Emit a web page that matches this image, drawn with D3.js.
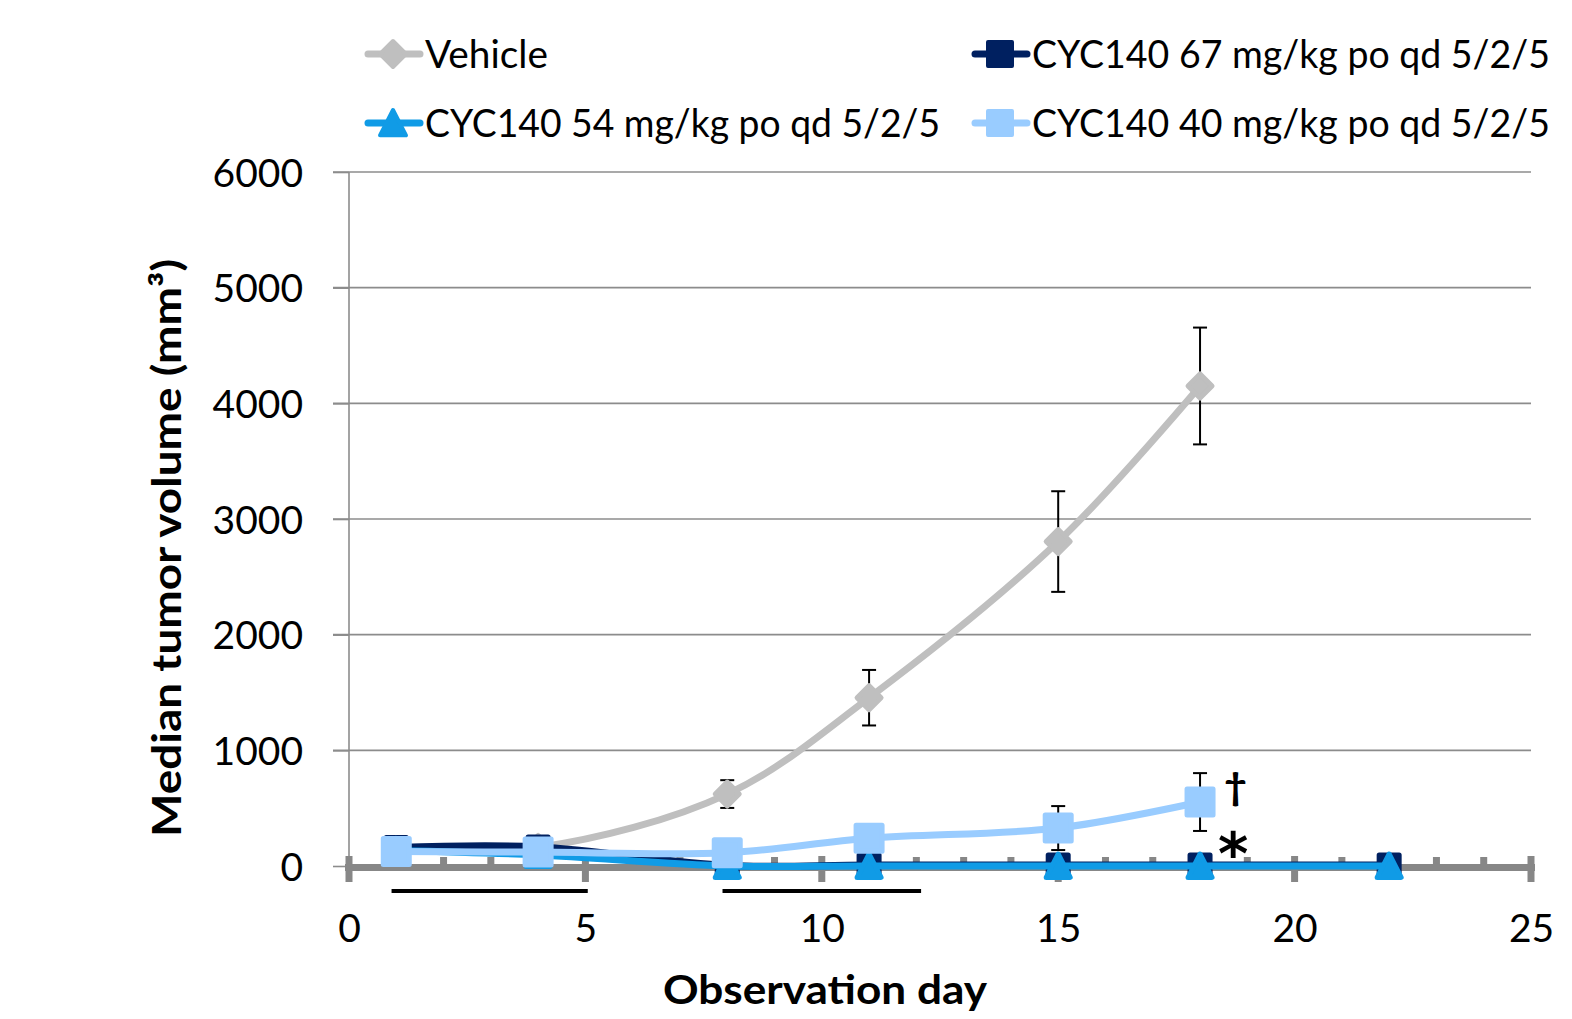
<!DOCTYPE html>
<html><head><meta charset="utf-8">
<script src="https://cdn.jsdelivr.net/npm/d3@7"></script>
<style>html,body{margin:0;padding:0;background:#fff;}svg{display:block;}</style>
</head><body>
<svg id="c" width="1572" height="1019"></svg>
<script>
// ---- data ----
const vehicleDays = [1, 4, 8, 11, 15, 18];
const vehicleVals = [140, 160, 622, 1455, 2805, 4150];
const vehicleErr  = [20, 20, 120, 240, 435, 505];

const dose67Days = [1, 4, 8, 11, 15, 18, 22];
const dose67Vals = [160, 165, 5, 8, 8, 8, 8];

const dose54Days = [1, 4, 8, 11, 15, 18, 22];
const dose54Vals = [135, 95, 0, 0, 0, 0, 0];

const dose40Days = [1, 4, 8, 11, 15, 18];
const dose40Vals = [125, 120, 115, 240, 328, 553];
const dose40Err  = [0, 0, 0, 0, 190, 250];

const seriesNames = ["Vehicle", "CYC140 67 mg/kg po qd 5/2/5", "CYC140 54 mg/kg po qd 5/2/5", "CYC140 40 mg/kg po qd 5/2/5"];
const xTicks = [0, 5, 10, 15, 20, 25];
const yTicks = [0, 1000, 2000, 3000, 4000, 5000, 6000];
const dosingPeriods = [[0.9, 5.05], [7.9, 12.1]];
const annotations = [{day: 18.75, text: "\u2020"}, {day: 18.7, text: "*"}];

// ---- setup ----
const svg = d3.select("#c");
const FONT = "Lato, 'Open Sans', sans-serif";
const x = d3.scaleLinear().domain([0, 25]).range([349, 1531]);
const y = d3.scaleLinear().domain([0, 6000]).range([866, 172]);

function fit(sel, w){ sel.attr("textLength", w).attr("lengthAdjust", "spacingAndGlyphs"); return sel; }

// gridlines
svg.append("g").selectAll("line").data(yTicks.filter(d => d > 0)).join("line")
  .attr("x1", 333).attr("x2", x(25)).attr("y1", d => y(d)).attr("y2", d => y(d))
  .attr("stroke", "#8c8c8c").attr("stroke-width", 1.6);

// y axis
const yAxis = svg.append("g").attr("transform", `translate(${x(0)},0)`)
  .call(d3.axisLeft(y).tickValues(yTicks).tickSize(16).tickPadding(30).tickFormat(d3.format("d")));
yAxis.select(".domain").remove();
yAxis.selectAll(".tick line").attr("stroke", "#8c8c8c").attr("stroke-width", 1.6);
yAxis.selectAll(".tick text").attr("font-family", FONT).attr("font-size", 39).attr("fill", "#000").attr("dy", "0.36em");
svg.append("line").attr("x1", x(0)).attr("x2", x(0)).attr("y1", y(6000)).attr("y2", y(0))
  .attr("stroke", "#8c8c8c").attr("stroke-width", 1.6);

// x axis
const xAxis = svg.append("g").attr("transform", `translate(0,${y(0)})`)
  .call(d3.axisBottom(x).tickValues(xTicks).tickSize(0).tickPadding(48).tickFormat(d3.format("d")));
xAxis.select(".domain").remove();
xAxis.selectAll(".tick text").attr("font-family", FONT).attr("font-size", 39).attr("fill", "#000");

const axG = svg.append("g");
axG.append("line").attr("x1", x(0) - 4).attr("x2", x(25) + 4).attr("y1", y(0) + 1.5).attr("y2", y(0) + 1.5)
  .attr("stroke", "#878787").attr("stroke-width", 7);
const minor = d3.range(1, 25).filter(d => d % 5 !== 0);
axG.selectAll(".mn").data(minor).join("rect").attr("class", "mn")
  .attr("x", d => x(d) - 3.5).attr("y", y(0) - 9).attr("width", 7).attr("height", 9).attr("fill", "#878787");
axG.selectAll(".mj").data(xTicks).join("rect").attr("class", "mj")
  .attr("x", d => x(d) - 3.5).attr("y", y(0) - 10).attr("width", 7).attr("height", 26).attr("fill", "#878787");

// dosing bars
svg.append("g").selectAll("line").data(dosingPeriods).join("line")
  .attr("x1", d => x(d[0])).attr("x2", d => x(d[1])).attr("y1", 891).attr("y2", 891)
  .attr("stroke", "#000").attr("stroke-width", 4);

// ---- series ----
const curve = d3.curveCatmullRom.alpha(0.5);
const line = d3.line().x(d => x(d[0])).y(d => y(d[1])).curve(curve);

function symbolPath(kind, s){
  if (kind === "diamond") return `M0,${-s}L${s},0L0,${s}L${-s},0Z`;
  if (kind === "square") return `M${-s},${-s}H${s}V${s}H${-s}Z`;
  if (kind === "triangle") return `M0,${-s}L${s},${s*0.95}H${-s}Z`;
}

const series = [
  {days: vehicleDays, vals: vehicleVals, err: vehicleErr, color: "#bfbfbf", sym: "diamond", size: 12},
  {days: dose67Days, vals: dose67Vals, err: null, color: "#002060", sym: "square", size: 10},
  {days: dose54Days, vals: dose54Vals, err: null, color: "#109be6", sym: "triangle", size: 12},
  {days: dose40Days, vals: dose40Vals, err: dose40Err, color: "#99ccff", sym: "square", size: 13}
];

series.forEach(s => {
  const pts = s.days.map((d, i) => [d, s.vals[i]]);
  const g = svg.append("g");
  if (s.err) {
    const eb = pts.map((p, i) => ({d: p[0], v: p[1], e: s.err[i]})).filter(o => o.e > 0);
    g.selectAll(".ev").data(eb).join("line").attr("class", "ev")
      .attr("x1", o => x(o.d)).attr("x2", o => x(o.d)).attr("y1", o => y(o.v - o.e)).attr("y2", o => y(o.v + o.e))
      .attr("stroke", "#000").attr("stroke-width", 2);
    g.selectAll(".ct").data(eb).join("line").attr("class", "ct")
      .attr("x1", o => x(o.d) - 7).attr("x2", o => x(o.d) + 7).attr("y1", o => y(o.v + o.e)).attr("y2", o => y(o.v + o.e))
      .attr("stroke", "#000").attr("stroke-width", 2);
    g.selectAll(".cb").data(eb).join("line").attr("class", "cb")
      .attr("x1", o => x(o.d) - 7).attr("x2", o => x(o.d) + 7).attr("y1", o => y(o.v - o.e)).attr("y2", o => y(o.v - o.e))
      .attr("stroke", "#000").attr("stroke-width", 2);
  }
  g.append("path").attr("d", line(pts)).attr("fill", "none").attr("stroke", s.color)
    .attr("stroke-width", 7).attr("stroke-linejoin", "round").attr("stroke-linecap", "round");
  g.selectAll(".m").data(pts).join("path").attr("class", "m")
    .attr("transform", p => `translate(${x(p[0])},${y(p[1])})`)
    .attr("d", symbolPath(s.sym, s.size)).attr("fill", s.color)
    .attr("stroke", s.color).attr("stroke-width", 5).attr("stroke-linejoin", "round");
});

// annotations
svg.append("text").attr("x", x(annotations[0].day)).attr("y", 800).attr("text-anchor", "middle")
  .attr("font-family", FONT).attr("font-weight", 900).attr("font-size", 38).text(annotations[0].text);
svg.append("text").attr("x", x(annotations[1].day)).attr("y", 874).attr("text-anchor", "middle")
  .attr("font-family", "'DejaVu Sans', sans-serif").attr("font-weight", 700).attr("font-size", 58).text(annotations[1].text);

// ---- legend ----
const legendPos = [
  {lx: 365, ty: 54, tx: 425, w: 123},
  {lx: 972, ty: 54, tx: 1032, w: 518},
  {lx: 365, ty: 123, tx: 425, w: 515},
  {lx: 972, ty: 123, tx: 1032, w: 518}
];
series.forEach((s, i) => {
  const p = legendPos[i];
  const g = svg.append("g");
  g.append("line").attr("x1", p.lx + 3).attr("x2", p.lx + 55).attr("y1", p.ty).attr("y2", p.ty)
    .attr("stroke", s.color).attr("stroke-width", 7).attr("stroke-linecap", "round");
  g.append("path").attr("transform", `translate(${p.lx + 28},${p.ty})`).attr("d", symbolPath(s.sym, s.sym === "square" ? 12 : 13))
    .attr("fill", s.color).attr("stroke", s.color).attr("stroke-width", 4).attr("stroke-linejoin", "round");
  fit(g.append("text").attr("x", p.tx).attr("y", p.ty + 14).attr("font-family", FONT).attr("font-size", 39)
    .attr("fill", "#000").text(seriesNames[i]), p.w);
});

// ---- axis titles ----
fit(svg.append("text").attr("x", 825).attr("y", 1004).attr("text-anchor", "middle")
  .attr("font-family", FONT).attr("font-weight", 700).attr("font-size", 40).text("Observation day"), 324);
fit(svg.append("text").attr("transform", "translate(181,548) rotate(-90)").attr("text-anchor", "middle")
  .attr("font-family", FONT).attr("font-weight", 700).attr("font-size", 40).text("Median tumor volume (mm\u00B3)"), 578);
</script>
</body></html>
